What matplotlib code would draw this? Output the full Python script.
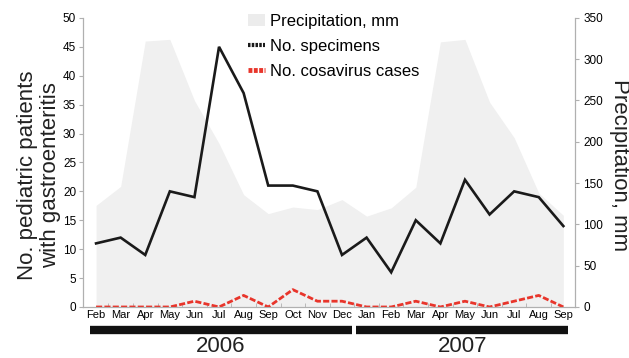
import matplotlib
matplotlib.use("Agg")
import matplotlib.pyplot as plt
import matplotlib.transforms as mtransforms
from matplotlib.lines import Line2D
from matplotlib.patches import Patch

plt.rcParams['font.family'] = ['Liberation Sans', 'DejaVu Sans']

months = ["Feb", "Mar", "Apr", "May", "Jun", "Jul", "Aug", "Sep", "Oct", "Nov", "Dec",
          "Jan", "Feb", "Mar", "Apr", "May", "Jun", "Jul", "Aug", "Sep"]
specimens = [11, 12, 9, 20, 19, 45, 37, 21, 21, 20, 9, 12, 6, 15, 11, 22, 16, 20, 19, 14]
cosavirus = [0, 0, 0, 0, 1, 0, 2, 0, 3, 1, 1, 0, 0, 1, 0, 1, 0, 1, 2, 0]
precip = [123, 146, 322, 324, 250, 198, 136, 113, 121, 118, 130,
          110, 120, 145, 321, 324, 248, 205, 138, 111]
years = ["2006", "2007"]

x = list(range(len(months)))

fig = plt.figure(figsize=(6.29, 3.58), dpi=100)
ax = fig.add_axes([0.132, 0.1425, 0.782, 0.8075])
ax2 = ax.twinx()
ax.set_zorder(ax2.get_zorder() + 1)
ax.patch.set_visible(False)

ax2.fill_between(x, precip, 0, color='#f0f0f0', linewidth=0)
ax2.set_ylim(0, 350)
ax2.set_yticks(range(0, 351, 50))

ax.plot(x, specimens, color='#1a1a1a', lw=1.9, solid_joinstyle='miter')
ax.plot(x, cosavirus, color='#e8352b', lw=2.0, ls=(0, (2.2, 0.8)))
ax.set_ylim(0, 50)
ax.set_yticks(range(0, 51, 5))
ax.set_xlim(-0.53, 19.47)
ax.set_xticks(x)
ax.set_xticklabels(months, fontsize=8)
ax.set_xticks([i + 0.5 for i in range(len(months) - 1)], minor=True)
ax.tick_params(axis='x', which='major', length=0, pad=2)
ax.tick_params(axis='x', which='minor', length=3, direction='in', color='#b0b0b0')

for a in (ax, ax2):
    for s in a.spines.values():
        s.set_color('#b0b0b0')
        s.set_linewidth(0.8)
    a.spines['top'].set_visible(False)
ax.tick_params(axis='y', length=3, color='#b0b0b0', labelsize=8.5, pad=2)
ax2.tick_params(axis='y', length=3, color='#b0b0b0', labelsize=8.5, pad=3)

trans = mtransforms.blended_transform_factory(ax.transData, ax.transAxes)
ax.plot([-0.25, 10.4], [-0.08, -0.08], transform=trans, color='#111111', lw=6,
        solid_capstyle='butt', clip_on=False)
ax.plot([10.55, 19.2], [-0.08, -0.08], transform=trans, color='#111111', lw=6,
        solid_capstyle='butt', clip_on=False)
ax.text(5.05, -0.135, years[0], transform=trans, ha='center', va='center', fontsize=16,
        color='#222222')
ax.text(14.9, -0.135, years[1], transform=trans, ha='center', va='center', fontsize=16,
        color='#222222')

fig.text(0.062, 0.51, "No. pediatric patients\nwith gastroenteritis", rotation=90,
         ha='center', va='center', fontsize=16, linespacing=1.12, color='#222222')
fig.text(0.985, 0.54, "Precipitation, mm", rotation=270, ha='center', va='center',
         fontsize=16, color='#222222')

handles = [Patch(facecolor='#ececec', edgecolor='none'),
           Line2D([], [], color='#1a1a1a', lw=3, ls=(0, (0.6, 0.3))),
           Line2D([], [], color='#e8352b', lw=3.5, ls=(0, (0.8, 0.3)))]
labels = ["Precipitation, mm", "No. specimens", "No. cosavirus cases"]
ax.legend(handles, labels, loc='upper left', bbox_to_anchor=(0.336, 1.015), frameon=False,
          fontsize=12, handlelength=1.0, handletextpad=0.3, labelspacing=0.6,
          borderpad=0, borderaxespad=0)

fig.savefig("out.png", dpi=100)
